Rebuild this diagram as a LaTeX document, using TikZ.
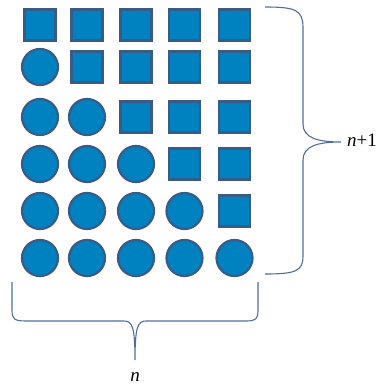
\documentclass[tikz,border=0pt]{standalone}
\usepackage{fontspec}
\setmainfont{Liberation Serif}
\usepackage{tikz}
\definecolor{cellblue}{HTML}{0082C0}
\definecolor{celledge}{HTML}{385B88}
\definecolor{bracegrey}{HTML}{4F6E9E}
\tikzset{
  sqbox/.style={rectangle,draw=celledge,line width=2.2pt,fill=cellblue,minimum size=31pt,inner sep=0pt},
  dotbox/.style={circle,draw=celledge,line width=2.2pt,fill=cellblue,minimum size=36pt,inner sep=0pt},
  bracepath/.style={draw=bracegrey,line width=1.1pt},
  countlabel/.style={font=\fontsize{19}{21}\selectfont,inner sep=0pt}
}

\begin{document}
\begin{tikzpicture}[x=1pt,y=-1pt]
  \useasboundingbox (0,0) rectangle (375,385);

  % row 1
  \node[sqbox] (r1c1) at (40,25) {};
  \node[sqbox] (r1c2) at (87,25) {};
  \node[sqbox] (r1c3) at (136,25) {};
  \node[sqbox] (r1c4) at (184.5,25) {};
  \node[sqbox] (r1c5) at (234.5,25) {};
  % row 2
  \node[dotbox] (r2c1) at (40,67) {};
  \node[sqbox] (r2c2) at (87,67) {};
  \node[sqbox] (r2c3) at (136,67) {};
  \node[sqbox] (r2c4) at (184.5,67) {};
  \node[sqbox] (r2c5) at (234.5,67) {};
  % row 3
  \node[dotbox] (r3c1) at (40,117) {};
  \node[dotbox] (r3c2) at (87,117) {};
  \node[sqbox] (r3c3) at (136,117) {};
  \node[sqbox] (r3c4) at (184.5,117) {};
  \node[sqbox] (r3c5) at (234.5,117) {};
  % row 4
  \node[dotbox] (r4c1) at (40,164) {};
  \node[dotbox] (r4c2) at (87,164) {};
  \node[dotbox] (r4c3) at (136,164) {};
  \node[sqbox] (r4c4) at (184.5,164) {};
  \node[sqbox] (r4c5) at (234.5,164) {};
  % row 5
  \node[dotbox] (r5c1) at (40,211) {};
  \node[dotbox] (r5c2) at (87,211) {};
  \node[dotbox] (r5c3) at (136,211) {};
  \node[dotbox] (r5c4) at (184.5,211) {};
  \node[sqbox] (r5c5) at (234.5,211) {};
  % row 6
  \node[dotbox] (r6c1) at (40,258) {};
  \node[dotbox] (r6c2) at (87,258) {};
  \node[dotbox] (r6c3) at (136,258) {};
  \node[dotbox] (r6c4) at (184.5,258) {};
  \node[dotbox] (r6c5) at (234.5,258) {};

  % braces
  \draw[bracepath] (265,7) .. controls (296,7) and (303,10) .. (303,28) -- (303,124)
    .. controls (303,138) and (318,142) .. (341,142)
    .. controls (318,142) and (303,146) .. (303,160) -- (303,256)
    .. controls (303,271) and (296,274) .. (265,274);
  \draw[bracepath] (12,282) -- (12,310) .. controls (12,319) and (14,321) .. (26,321) -- (124,321)
    .. controls (132,321) and (135,326) .. (135,360)
    .. controls (135,326) and (138,321) .. (146,321) -- (246,321)
    .. controls (256,321) and (258,319) .. (258,310) -- (258,282);

  \node[countlabel, anchor=base west] (rows) at (347,146) {\textit{n}+1};
  \node[countlabel, anchor=base] (cols) at (135,381) {\textit{n}};
\end{tikzpicture}
\end{document}
